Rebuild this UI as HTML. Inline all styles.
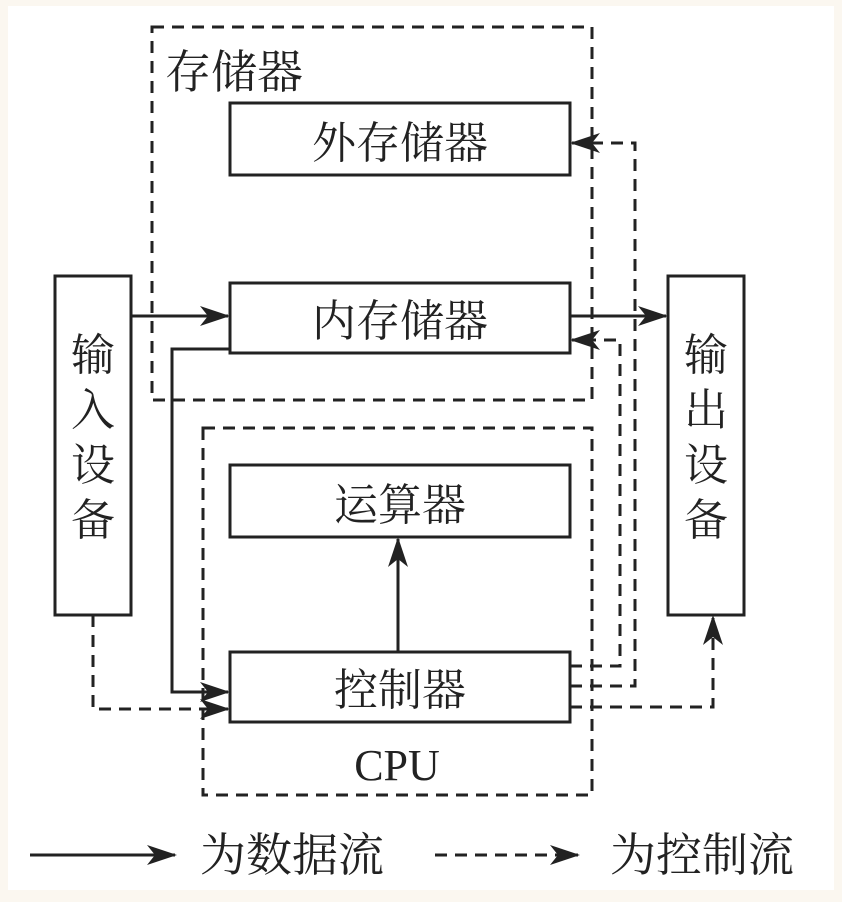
<!DOCTYPE html>
<html><head><meta charset="utf-8"><style>
html,body{margin:0;padding:0;background:#fff}
svg{display:block}
text{font-family:"Liberation Serif","Noto Serif CJK SC",serif;fill:#222}
</style></head><body>
<svg width="842" height="902" viewBox="0 0 842 902" xmlns="http://www.w3.org/2000/svg">
<defs>
<marker id="a" markerWidth="30" markerHeight="20" refX="28" refY="10" orient="auto" markerUnits="userSpaceOnUse">
<path d="M0,0 L30,10 L0,20 L8,10 Z" fill="#222"/>
</marker>
</defs>
<rect x="0" y="0" width="842" height="902" fill="#fbf7f0"/>
<rect x="8" y="6" width="826" height="884" fill="#fff"/>
<g stroke="#222" stroke-width="3" fill="none">
<rect x="152" y="27" width="440" height="373" stroke-dasharray="12,8"/>
<rect x="203" y="428" width="389" height="367" stroke-dasharray="12,8"/>
<rect x="230" y="103" width="340" height="72"/>
<rect x="230" y="283" width="340" height="70"/>
<rect x="230" y="465" width="340" height="72"/>
<rect x="230" y="652" width="340" height="70"/>
<rect x="55" y="276" width="76" height="339"/>
<rect x="668" y="276" width="76" height="339"/>
<path d="M131,316 H228" marker-end="url(#a)"/>
<path d="M570,316 H666" marker-end="url(#a)"/>
<path d="M230,349 H172 V692 H228" marker-end="url(#a)"/>
<path d="M398,652 V539" marker-end="url(#a)"/>
<g stroke-dasharray="12,8">
<path d="M93,615 V709 H228" marker-end="url(#a)"/>
<path d="M570,666 H620 V340 H572" marker-end="url(#a)"/>
<path d="M570,686 H635 V143 H572" marker-end="url(#a)"/>
<path d="M570,707 H713 V617" marker-end="url(#a)"/>
<path d="M435,855 H578" marker-end="url(#a)"/>
</g>
<path d="M30,855 H175" marker-end="url(#a)"/>
</g>
<g font-size="44">
<text x="165" y="88" font-size="46">存储器</text>
<text x="400" y="158" text-anchor="middle">外存储器</text>
<text x="400" y="336" text-anchor="middle">内存储器</text>
<text x="400" y="520" text-anchor="middle">运算器</text>
<text x="400" y="705" text-anchor="middle">控制器</text>
<text x="397" y="780" text-anchor="middle">CPU</text>
<text x="93" y="370" text-anchor="middle">输</text>
<text x="93" y="425" text-anchor="middle">入</text>
<text x="93" y="480" text-anchor="middle">设</text>
<text x="93" y="535" text-anchor="middle">备</text>
<text x="706" y="370" text-anchor="middle">输</text>
<text x="706" y="425" text-anchor="middle">出</text>
<text x="706" y="480" text-anchor="middle">设</text>
<text x="706" y="535" text-anchor="middle">备</text>
<text x="200" y="871" font-size="46">为数据流</text>
<text x="610" y="871" font-size="46">为控制流</text>
</g>
</svg>
</body></html>
